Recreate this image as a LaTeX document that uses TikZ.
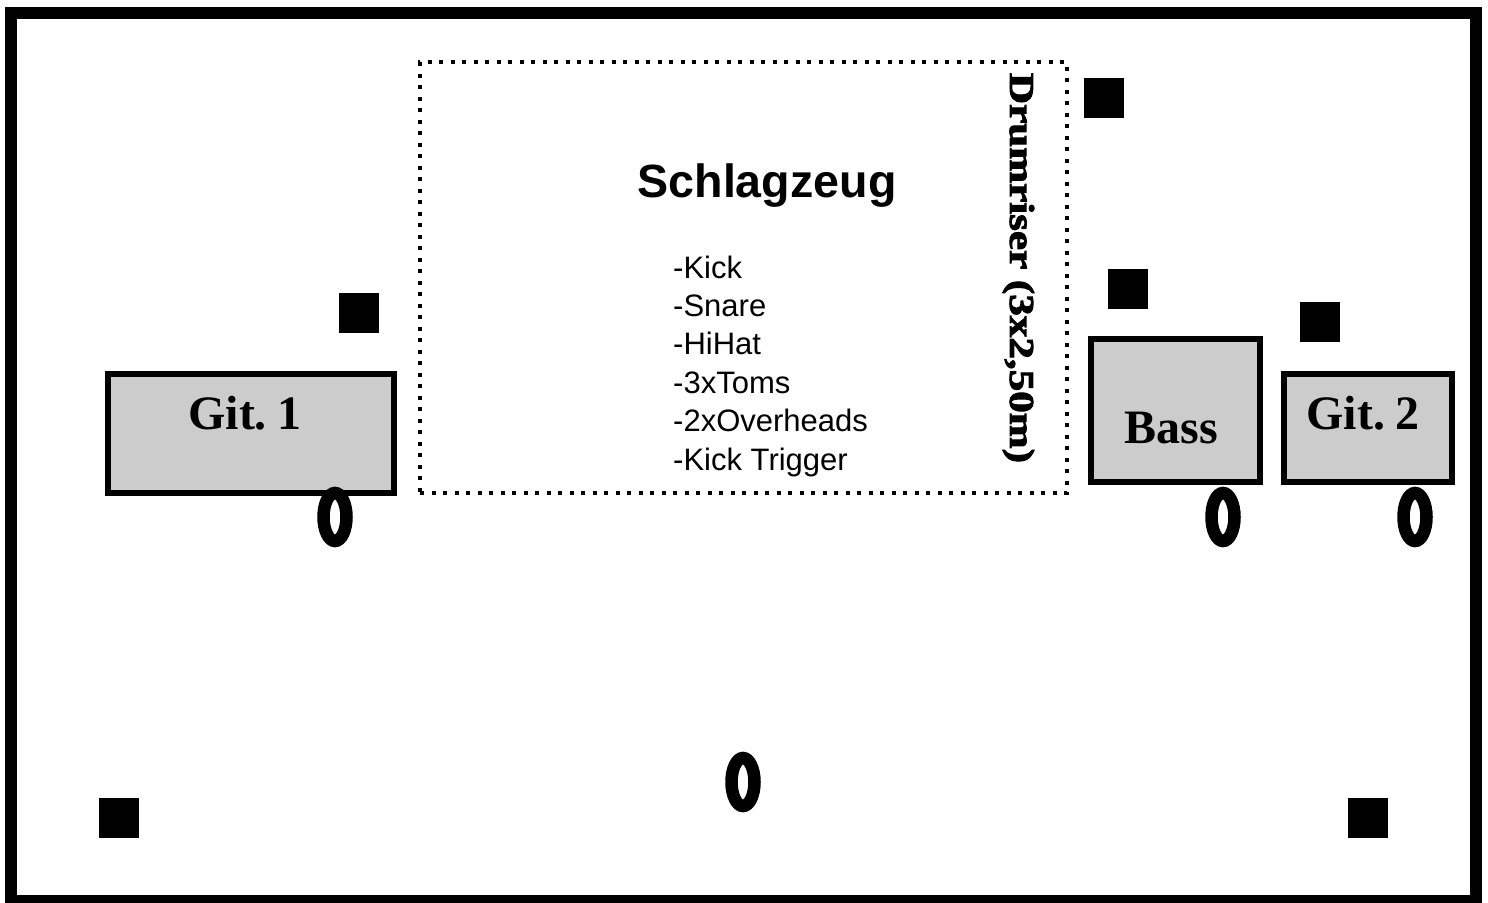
\documentclass[tikz,border=0pt]{standalone}
\usepackage{fontspec}
\setmainfont{Liberation Serif}
\setsansfont{Liberation Sans}
\newfontfamily\riserfont[FakeBold=2.5]{Liberation Serif Bold}
\newcommand\tightspace{\spaceskip=0.14em\relax}
\usetikzlibrary{shapes.geometric}
\tikzset{
  frame/.style={draw, line width=12pt, minimum width=1465pt, minimum height=888pt, inner sep=0pt},
  riser/.style={draw, line width=4pt, dash pattern=on 4pt off 7.5pt, minimum width=647pt, minimum height=431pt, inner sep=0pt},
  amp/.style={draw, line width=6pt, fill=ampgray, inner sep=0pt},
  monitor/.style={fill=black, minimum width=40pt, minimum height=40pt, inner sep=0pt},
  mic/.style={draw, ellipse, line width=12.5pt, minimum width=23pt, minimum height=48pt, inner sep=0pt},
  amplabel/.style={font=\rmfamily\bfseries\fontsize{48}{56}\selectfont\tightspace, anchor=base, inner sep=0pt},
  listitem/.style={font=\sffamily\fontsize{31}{38}\selectfont, anchor=base west, inner sep=0pt}
}
\definecolor{ampgray}{HTML}{CCCCCC}
\begin{document}
\begin{tikzpicture}[x=1pt, y=-1pt]
\useasboundingbox (0,0) rectangle (1488,902);
\node[frame] (stage) at (743.5,457) {};
\node[riser] (riser) at (743.5,277.5) {};
% amps
\node[amp, minimum width=286pt, minimum height=119pt] (git1) at (251,433.5) {};
\node[amp, minimum width=169pt, minimum height=143pt] (bass) at (1175.5,410.5) {};
\node[amp, minimum width=168pt, minimum height=108pt] (git2) at (1368,428) {};
% monitors
\node[monitor] (m1) at (1104,97.5) {};
\node[monitor] (m2) at (359,313) {};
\node[monitor] (m3) at (1128,289) {};
\node[monitor] (m4) at (1320,321.5) {};
\node[monitor] (m5) at (119,817.5) {};
\node[monitor] (m6) at (1367.5,817.5) {};
% mics
\node[mic] (mic1) at (335,517) {};
\node[mic] (mic2) at (1223,517) {};
\node[mic] (mic3) at (1415,517) {};
\node[mic] (mic4) at (743,782) {};
% labels
\node[amplabel] (t1) at (245,429) {Git. 1};
\node[amplabel] (t2) at (1171,443) {Bass};
\node[amplabel] (t3) at (1363,429) {Git. 2};
\node[font=\sffamily\bfseries\fontsize{46.6}{54}\selectfont, anchor=base, inner sep=0pt] (drums) at (767,197) {Schlagzeug};
\node[listitem] (l1) at (673,278) {-Kick};
\node[listitem] (l2) at (673,316.4) {-Snare};
\node[listitem] (l3) at (673,354.8) {-HiHat};
\node[listitem] (l4) at (673,393.2) {-3xToms};
\node[listitem] (l5) at (673,431.6) {-2xOverheads};
\node[listitem] (l6) at (673,470) {-Kick Trigger};
\node[font=\riserfont\fontsize{35}{40}\selectfont, anchor=base, rotate=-90, inner sep=0pt] (risertext) at (1010,268) {\resizebox{390pt}{\height}{Drumriser (3x2,50m)}};
\end{tikzpicture}
\end{document}
